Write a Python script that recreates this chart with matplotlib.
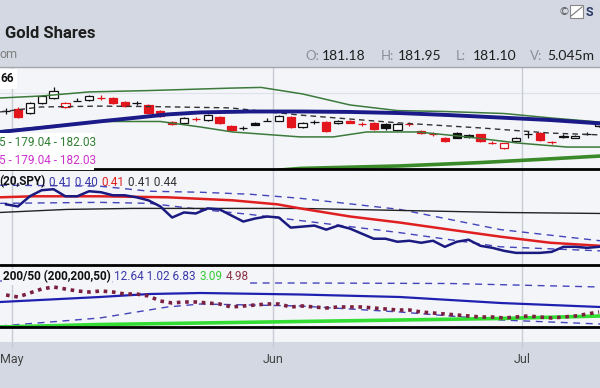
import matplotlib
matplotlib.use("Agg")
import matplotlib.pyplot as plt
from matplotlib.patches import Rectangle

# ---- candles (one per trading day, day 0 = last day of April) ----
days = list(range(51))
opens = [184.6, 185.05, 184.15, 186.4, 187.5, 185.5, 186.8, 187.05, 187.55, 187.5,
         186.6, 186.35, 185.95, 184.6, 182.15, 181.95, 182.85, 182.6, 183.3, 181.3,
         180.8, 181.95, 182.35, 182.4, 183.3, 181.1, 182.15, 182.15, 181.95, 182.4,
         181.75, 181.95, 181.7, 180.4, 181.7, 180.15, 179.55, 178.6, 179.7, 179.25,
         179.5, 177.55, 176.4, 177.95, 179.45, 179.7, 177.75, 178.9, 178.6, 179.45,
         181.18]
highs = [185.2, 185.4, 186.6, 188.2, 189.95, 186.7, 187.5, 188.2, 188.1, 187.7,
         186.8, 186.8, 186.1, 184.8, 182.3, 183.3, 183.3, 183.9, 183.4, 181.45,
         181.3, 182.1, 183.0, 183.7, 183.5, 182.2, 182.6, 182.3, 182.6, 182.5,
         182.1, 182.1, 181.9, 181.9, 182.1, 180.3, 179.9, 178.8, 179.9, 179.4,
         179.6, 177.9, 177.6, 178.8, 180.2, 179.9, 178.0, 179.4, 179.3, 179.9,
         181.95]
lows = [184.0, 183.0, 183.9, 186.2, 187.3, 185.3, 186.75, 186.9, 187.1, 186.2,
        185.6, 186.0, 184.0, 183.3, 181.5, 181.8, 182.4, 182.4, 181.8, 180.2,
        180.4, 181.4, 182.3, 182.3, 180.9, 180.9, 181.8, 179.9, 181.8, 181.85,
        181.3, 180.4, 180.3, 180.2, 181.3, 179.6, 179.1, 177.7, 178.5, 178.7,
        177.8, 177.2, 176.2, 177.8, 178.6, 178.0, 177.3, 178.5, 178.5, 179.2,
        181.10]
closes = [184.65, 183.3, 186.4, 187.95, 189.05, 186.4, 186.85, 187.95, 187.5, 186.4,
          185.7, 186.4, 184.15, 183.5, 181.7, 183.05, 182.8, 183.7, 181.95, 180.4,
          180.85, 181.5, 182.4, 183.5, 181.05, 181.95, 182.2, 180.15, 182.4, 181.95,
          181.7, 180.6, 180.75, 181.7, 181.65, 179.7, 179.5, 177.95, 178.6, 178.85,
          177.95, 177.5, 177.4, 178.6, 179.5, 178.15, 177.7, 178.95, 179.15, 179.5,
          181.66]

month_first_day = [1, 23, 44]
month_names = ["May", "Jun", "Jul"]

# ---- price panel overlays ----
upper_d = [-0.5, 3, 7, 12, 19, 21.5, 25, 29, 33, 37, 42, 46, 50.1]
upper_band = [187.5, 187.95, 188.85, 189.15, 189.7, 189.85, 188.4, 185.95, 184.7, 184.5,
              184.05, 183.05, 182.15]
lower_d = [-0.5, 3.7, 7.9, 13, 16.4, 19.1, 24.8, 27.6, 30.4, 34.7, 38.9, 43.1, 47.3, 50.1]
lower_band = [180.17, 181.28, 182.28, 182.28, 181.05, 179.95, 178.85, 178.85, 179.95,
              179.95, 178.85, 177.5, 176.6, 176.6]
mid_d = [-0.5, 2.9, 7.9, 12.1, 18.9, 24.8, 33.2, 40, 45.9, 50.1]
mid_band = [184.4, 185.5, 185.7, 185.6, 185.3, 183.7, 181.95, 180.85, 179.7, 179.3]
ma50_d = [-0.5, 2.3, 5.1, 7.9, 10.7, 13.6, 16.4, 20.6, 24.8, 29, 33.2, 37.4, 41.7, 45.9, 50.1]
ma50 = [179.95, 180.7, 181.5, 182.3, 183.05, 183.85, 184.3, 184.5, 184.5, 184.4, 184.15,
        183.7, 183.15, 182.6, 181.85]
ma200_d = [23.1, 24.8, 33.2, 40, 45, 50.1]
ma200 = [171.5, 171.85, 172.4, 173.15, 173.85, 174.6]

# ---- relative strength panel ----
rel = [0.4325, 0.4315, 0.4365, 0.4395, 0.4400, 0.4365, 0.4365, 0.4390, 0.4385, 0.4370,
       0.4370, 0.4360, 0.4345, 0.4315, 0.4260, 0.4285, 0.4280, 0.4305, 0.4300, 0.4270,
       0.4240, 0.4255, 0.4265, 0.4260, 0.4210, 0.4215, 0.4220, 0.4200, 0.4220, 0.4205,
       0.4180, 0.4155, 0.4155, 0.4140, 0.4145, 0.4135, 0.4145, 0.4115, 0.4140, 0.4150,
       0.4120, 0.4110, 0.4095, 0.4085, 0.4085, 0.4085, 0.4090, 0.4115, 0.4115, 0.4110,
       0.4115]
rel_ma_d = [-0.5, 2.3, 7.9, 13.6, 19.1, 22.9, 24.8, 29, 33.2, 37.4, 41.7, 45.9, 50.1]
rel_ma = [0.436, 0.4365, 0.4365, 0.436, 0.4345, 0.4325, 0.4305, 0.4265, 0.4235, 0.42,
          0.4165, 0.4135, 0.412]
rel_long_d = [-0.5, 5.1, 10.7, 16.4, 24.8, 33.2, 41.7, 50.1]
rel_long = [0.4285, 0.43, 0.4305, 0.4305, 0.4305, 0.4295, 0.4285, 0.428]
rel_env_d = [-0.5, 7.9, 12.1, 16.4, 20.6, 24.8, 33.2, 41.7, 50.1]
rel_upper = [0.442, 0.4415, 0.439, 0.4385, 0.4375, 0.4355, 0.43, 0.42, 0.4145]
rel_lower = [0.433, 0.4335, 0.433, 0.43, 0.4275, 0.4245, 0.4185, 0.4115, 0.4095]

# ---- 200/50 panel ----
osc = [11.1, 10.38, 11.82, 13.26, 13.98, 13.26, 12.54, 12.18, 12.54, 12.18,
       11.46, 11.46, 10.74, 8.94, 8.22, 8.58, 8.58, 8.22, 7.86, 6.78,
       7.14, 7.5, 7.86, 7.86, 6.78, 7.14, 6.78, 6.42, 6.78, 6.78,
       6.78, 6.42, 6.06, 5.7, 5.7, 4.98, 4.62, 4.26, 3.9, 3.54,
       3.18, 3.18, 2.82, 3.18, 3.54, 3.18, 2.82, 3.18, 3.54, 4.26,
       4.98]
osc_mid_d = [-0.5, 7.9, 12.1, 16.4, 24.8, 33.2, 41.7, 50.1]
osc_mid = [8.58, 10.38, 11.46, 11.82, 11.28, 10.38, 8.22, 6.78]
osc_up_d = [-0.5, 12.1, 20.3, 24.8, 37.4, 50.1]
osc_up = [16.14, 15.78, 15.42, 15.42, 15.24, 13.98]
osc_lo_d = [-0.5, 7.9, 13.6, 16.4, 24.8, 33.2, 41.7, 50.1]
osc_lo = [-0.06, 2.82, 6.78, 7.86, 7.14, 4.98, 2.1, 0.66]
osc_base_d = [-0.5, 7.9, 16.4, 24.8, 33.2, 41.7, 50.1]
osc_base = [-0.42, 0.48, 1.02, 1.56, 2.1, 2.64, 3.54]

W, H = 600, 388
panel_bg = "#f4f5f9"
header_bg = "#d3d8e2"
grid_c = "#c8ccd5"
red = "#e3161d"

fig = plt.figure(figsize=(6, 3.88), dpi=100)
fig.patch.set_facecolor(header_bg)

bg = fig.add_axes([0, 0, 1, 1])
bg.set_xlim(0, W)
bg.set_ylim(H, 0)
bg.axis("off")
bg.add_patch(Rectangle((0, 327), W, 15, color=panel_bg, lw=0))


def panel(top, bottom):
    ax = fig.add_axes([0, 1 - bottom / H, 1, (bottom - top) / H])
    ax.set_facecolor(panel_bg)
    ax.set_xlim(-0.512, 50.08)
    ax.set_xticks([m - 0.5 for m in month_first_day])
    ax.grid(axis="x", color=grid_c, lw=1)
    ax.set_axisbelow(True)
    ax.set_yticks([])
    ax.tick_params(axis="x", length=0, labelbottom=False)
    for s in ("left", "right", "top", "bottom"):
        ax.spines[s].set_visible(False)
    return ax


ax1 = panel(66.5, 169)
ax2 = panel(169, 265)
ax3 = panel(265, 327)

# price panel
ax1.set_ylim(171.72, 194.5)
ax1.axhline(188.5, color="#dfe2e8", lw=0.8, zorder=0)
ax1.spines["top"].set_visible(True)
ax1.spines["top"].set_color("#a3a7ae")
ax1.spines["top"].set_linewidth(1)

bw = 0.7
for i in days:
    o, h, l, c = opens[i], highs[i], lows[i], closes[i]
    prev = closes[i - 1] if i > 0 else o
    col = red if c < prev else "#111111"
    face = "white" if c >= o else col
    ax1.vlines(i, l, h, color=col, lw=0.9, zorder=3)
    lo = min(o, c)
    ht = max(abs(c - o), 0.05)
    ax1.add_patch(Rectangle((i - bw / 2, lo), bw, ht, facecolor=face, edgecolor=col,
                            lw=0.9, zorder=3.5))

ax1.plot(upper_d, upper_band, color="#3b7a3b", lw=1.1, zorder=4)
ax1.plot(lower_d, lower_band, color="#3b7a3b", lw=1.1, zorder=4)
ax1.plot(mid_d, mid_band, color="#333333", lw=1, dashes=(4, 3), zorder=4)
ax1.plot(ma50_d, ma50, color="#1a1a88", lw=2.8, zorder=4.5)
ax1.plot(ma200_d, ma200, color="#3a8a2a", lw=2.6, zorder=4.5)

# relative strength panel
ax2.set_ylim(0.4025, 0.45)
ax2.plot(rel_env_d, rel_upper, color="#4444bb", lw=1, dashes=(5, 4), zorder=3)
ax2.plot(rel_env_d, rel_lower, color="#4444bb", lw=1, dashes=(5, 4), zorder=3)
ax2.plot(rel_long_d, rel_long, color="#222222", lw=1, zorder=3)
ax2.plot(rel_ma_d, rel_ma, color="#e02020", lw=1.8, zorder=3.5)
ax2.plot(days, rel, color="#1a1a80", lw=1.8, zorder=4)

# 200/50 panel
ax3.set_ylim(-0.42, 21.9)
ax3.plot(osc_up_d, osc_up, color="#4444bb", lw=1, dashes=(5, 4), zorder=3)
ax3.plot(osc_lo_d, osc_lo, color="#4444bb", lw=1, dashes=(5, 4), zorder=3)
ax3.plot(osc_mid_d, osc_mid, color="#2020b0", lw=1.6, zorder=3)
ax3.plot(osc_base_d, osc_base, color="#33dd33", lw=2.6, zorder=3)
ax3.plot(days, osc, color="#7a1f3d", lw=2.6, linestyle=(0, (1, 1.3)), zorder=4)
ax3.set_xticklabels(month_names, family="Roboto", fontsize=9, color="#444")
ax3.tick_params(axis="x", direction="out", length=15, width=1, color=grid_c,
                labelbottom=True, pad=3.5)

# overlay for borders, header and panel labels
ov = fig.add_axes([0, 0, 1, 1])
ov.set_xlim(0, W)
ov.set_ylim(H, 0)
ov.axis("off")
ov.patch.set_alpha(0)
for yb in (169, 265, 327):
    ov.axhline(yb, color="black", lw=2, zorder=1)

ov.text(5, 33, "Gold Shares", fontsize=12, fontweight="bold", family="Roboto",
        color="#1e1e1e", va="center")
ov.text(-1, 55, "om", fontsize=9, family="Roboto", color="#808080", va="center")
ohlc = [(305, "O:", "181.18"), (381, "H:", "181.95"), (456, "L:", "181.10"), (530, "V:", "5.045m")]
for x, k, v in ohlc:
    ov.text(x, 56, k, fontsize=9.5, family="Lato", color="#8a8f99", va="center")
    ov.text(x + 17, 56, v, fontsize=10, family="Lato", color="#1e1e1e", va="center")
ov.text(558, 12, "\u00a9", fontsize=8, family="DejaVu Sans", color="#555", va="center")
ov.add_patch(Rectangle((570, 5), 13, 13, facecolor="white", edgecolor="#888", lw=0.8))
ov.plot([571, 582], [16, 7], color="#777", lw=0.8)
ov.text(586, 12, "S", fontsize=9, fontweight="bold", family="Roboto", color="#2b3a67", va="center")

lab = dict(family="Roboto", fontsize=8.5, va="center", zorder=6)
ov.text(0, 79, "66", color="#111", fontweight="bold",
        bbox=dict(facecolor="white", edgecolor="none", pad=2.2), **lab)
ov.add_patch(Rectangle((0, 133), 94, 36.5, facecolor="white", edgecolor="none", zorder=5))
ov.text(-1, 142, "5 - 179.04 - 182.03", color="#2e7d32", **lab)
ov.text(-1, 161, "5 - 179.04 - 182.03", color="#cc33cc", **lab)

fig.canvas.draw()
rend = fig.canvas.get_renderer()


def label_row(x0, y, parts, box):
    for s, c, w in parts:
        kw = dict(lab)
        if box:
            kw["bbox"] = dict(facecolor=panel_bg, edgecolor="none", pad=0.8)
        t = ov.text(x0, y, s, color=c, fontweight=w, **kw)
        x0 += t.get_window_extent(renderer=rend).width + 3.5


label_row(-1, 182, [("(20,SPY)", "#111", "bold"), ("0.41 0.40", "#3a3aa8", "normal"),
                    ("0.41", "#dd2020", "normal"), ("0.41 0.44", "#333", "normal")], False)
label_row(3, 277, [("200/50 (200,200,50)", "#111", "bold"), ("12.64 1.02 6.83", "#3a3aa8", "normal"),
                   ("3.09", "#33cc33", "normal"), ("4.98", "#883344", "normal")], True)

fig.savefig("out.png", dpi=100, facecolor=header_bg)
